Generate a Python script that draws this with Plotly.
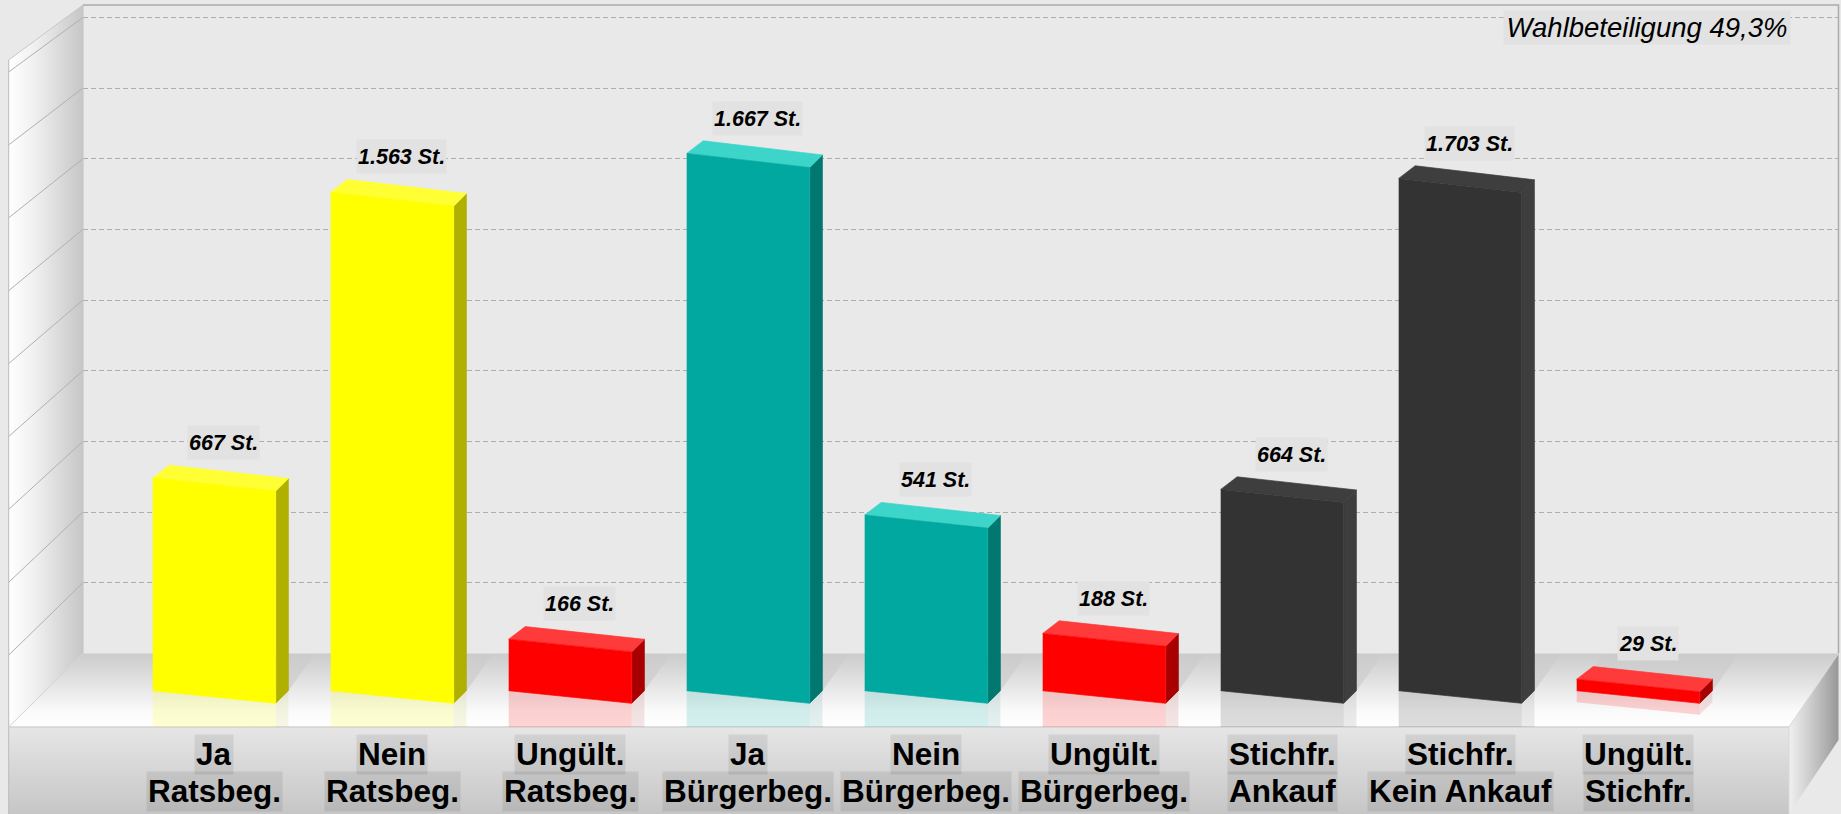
import plotly.graph_objects as go

# ---- data ----
line1 = ["Ja", "Nein", "Ungült.", "Ja", "Nein", "Ungült.", "Stichfr.", "Stichfr.", "Ungült."]
line2 = ["Ratsbeg.", "Ratsbeg.", "Ratsbeg.", "Bürgerbeg.", "Bürgerbeg.", "Bürgerbeg.", "Ankauf", "Kein Ankauf", "Stichfr."]
printed_votes = [667, 1563, 166, 1667, 541, 188, 664, 1703, 29]
# heights of the bars as drawn (they differ from the printed labels, most of all for the dark bars)
drawn_heights = [665, 1558, 161, 1679, 549, 179, 629, 1601, 36]
front_colors = ["#ffff00", "#ffff00", "#ff0000", "#00a8a0", "#00a8a0", "#ff0000", "#333333", "#333333", "#ff0000"]
top_colors = ["#ffff33", "#ffff33", "#ff3a3a", "#3dd4ca", "#3dd4ca", "#ff3a3a", "#3e3e3e", "#3e3e3e", "#ff3a3a"]
side_colors = ["#b0b000", "#b0b000", "#a80000", "#00776f", "#00776f", "#a80000", "#3e3e3e", "#3e3e3e", "#a80000"]
turnout_text = "Wahlbeteiligung 49,3%"

# ---- layout constants ----
W, H = 1841, 814
BG = "#e9e9e9"
PITCH = 178.0
X0 = 214.2
BASE_PY = 690.7
PX_PER_UNIT = 0.32
FLOOR_BACK = 653.4
FLOOR_FRONT = 727.0


def X(px):
    return (px - X0) / PITCH


def Y(py):
    return (BASE_PY - py) / PX_PER_UNIT


def rgba(hex_color, a):
    h = hex_color.lstrip("#")
    return f"rgba({int(h[0:2],16)},{int(h[2:4],16)},{int(h[4:6],16)},{a})"


fig = go.Figure()


def poly(xs, ys, color=None, grad=None, outline=False):
    kw = dict(fillcolor=color) if grad is None else dict(fillgradient=grad)
    ln = dict(width=0.7, color=color) if outline else dict(width=0)
    fig.add_trace(go.Scatter(x=xs, y=ys, mode="lines", fill="toself", line=ln,
                             hoverinfo="skip", showlegend=False, xaxis="x2", yaxis="y2", **kw))


def line(pxs, pys, color, width=1):
    fig.add_trace(go.Scatter(x=[X(p) for p in pxs], y=[Y(p) for p in pys], mode="lines",
                             line=dict(color=color, width=width), hoverinfo="skip",
                             showlegend=False, xaxis="x2", yaxis="y2"))


def ppoly(pxs, pys, color=None, grad=None):
    poly([X(p) for p in pxs], [Y(p) for p in pys], color, grad)


# carrier of the back-wall grid (first subplot, so it lies under everything else)
fig.add_trace(go.Scatter(x=[0], y=[0], mode="markers", marker=dict(opacity=0), hoverinfo="skip",
                         showlegend=False, xaxis="x", yaxis="y"))

# left wall
ppoly([8.7, 83, 83, 8.7], [60, 5, FLOOR_BACK, FLOOR_FRONT],
      grad=dict(type="horizontal", colorscale=[[0, "#ffffff"], [0.35, "#f0f0f0"], [1, "#c6c6c6"]]))
# floor
ppoly([8.7, 83, 1838.5, 1789], [FLOOR_FRONT, FLOOR_BACK, FLOOR_BACK, FLOOR_FRONT],
      grad=dict(type="vertical", colorscale=[[0, "#ffffff"], [0.22, "#fafafa"], [1, "#cbcbcb"]]))
# front panel
ppoly([8.7, 1789, 1789, 8.7], [FLOOR_FRONT, FLOOR_FRONT, H, H],
      grad=dict(type="vertical", colorscale=[[0, "#c6c6c6"], [1, "#e6e6e6"]]))
# right panel
ppoly([1789, 1838.5, 1838.5, 1789], [FLOOR_FRONT, FLOOR_BACK, 740, H],
      grad=dict(type="horizontal", colorscale=[[0, "#f0f0f0"], [0.4, "#cfcfcf"], [1, "#989898"]]))

# wall lines
back_grid = [17.3 + 70.67 * k for k in range(9)]
front_grid = [72.0 + 72.9 * k for k in range(9)]
for yb, yf in zip(back_grid, front_grid):
    line([8.7, 83], [yf, yb], "#b0b0b0")
line([8.7, 83], [FLOOR_FRONT, FLOOR_BACK], "#d4d4d4")
line([8.7, 83], [60, 5], "#c8c8c8")
line([83, 83], [5, FLOOR_BACK], "#c4c4c4")
line([83, 1838.5, 1838.5], [5, 5, FLOOR_BACK], "#ababab", 1.5)
line([8.7, 8.7], [60, H], "#bcbcbc")
line([8.7, 1789], [FLOOR_FRONT, FLOOR_FRONT], "#d2d2d2", 1.5)
line([1789, 1838.5], [FLOOR_FRONT, FLOOR_BACK], "#d8d8d8")
line([1789, 1789], [FLOOR_FRONT, H], "#d8d8d8")

# bars
HALF = 61.5 / PITCH
DX_SIDE = 12.7 / PITCH
DX_BACKL = 16.5 / PITCH
DY_BACK = 12.6 / PX_PER_UNIT
SHEAR_BASE = 12.6 / PX_PER_UNIT
CLIP = Y(FLOOR_FRONT)
SHADOW_DX = 27 / PITCH


def clipped(v):
    return max(v, CLIP)


for i, h in enumerate(drawn_heights):
    L, R, S = i - HALF, i + HALF, i + HALF + DX_SIDE
    top_shear = SHEAR_BASE + 0.0009 * h / PX_PER_UNIT
    # floor shadow
    poly([L, L + SHADOW_DX, S + SHADOW_DX, S], [0, Y(FLOOR_BACK), Y(FLOOR_BACK), 0],
         grad=dict(type="vertical", colorscale=[[0, "rgba(0,0,0,0.09)"], [1, "rgba(0,0,0,0)"]]))
    # reflections
    poly([L, R, R, L], [0, -SHEAR_BASE, clipped(-SHEAR_BASE - h), clipped(-h)], rgba(front_colors[i], 0.17))
    poly([R, S, S, R], [-SHEAR_BASE, 0, clipped(-h), clipped(-SHEAR_BASE - h)], rgba(side_colors[i], 0.1))
    # side, top, front
    poly([R, S, S, R], [-SHEAR_BASE, 0, h - top_shear + DY_BACK, h - top_shear], side_colors[i], outline=True)
    poly([L, L + DX_BACKL, S, R], [h, h + DY_BACK, h - top_shear + DY_BACK, h - top_shear], top_colors[i], outline=True)
    poly([L, R, R, L], [0, -SHEAR_BASE, h - top_shear, h], front_colors[i], outline=True)

annotations = []
LABEL_DX = 9.6 / PITCH
LABEL_DY = 35.2 / PX_PER_UNIT
for i, (v, h) in enumerate(zip(printed_votes, drawn_heights)):
    txt = f"{v:,}".replace(",", ".") + " St."
    annotations.append(dict(x=i + LABEL_DX, y=h + LABEL_DY, xref="x2", yref="y2", text=f"<b><i>{txt}</i></b>",
                            showarrow=False, height=31, borderpad=1, bgcolor="#e2e2e2",
                            font=dict(family="Liberation Sans", size=21.5, color="#000000")))
for i, (a, b) in enumerate(zip(line1, line2)):
    for txt, py in ((a, 754.3), (b, 791.0)):
        annotations.append(dict(x=i, y=Y(py), xref="x2", yref="y2", text=f"<b>{txt}</b>", showarrow=False,
                                height=36.7, borderpad=1, bgcolor="rgba(0,0,0,0.08)",
                                font=dict(family="Liberation Sans", size=31.5, color="#000000")))
annotations.append(dict(x=X(1647), y=Y(27), xref="x2", yref="y2", text=f"<i>{turnout_text}</i>", showarrow=False,
                        height=31, width=284, bgcolor="#e2e2e2",
                        font=dict(family="Liberation Sans", size=27.5, color="#000000")))

hidden = dict(showticklabels=False, ticks="", zeroline=False, showline=False)
fig.update_layout(
    width=W, height=H, margin=dict(l=0, r=0, t=0, b=0), autosize=False,
    paper_bgcolor=BG, plot_bgcolor="rgba(0,0,0,0)", showlegend=False, annotations=annotations,
    xaxis=dict(domain=[83 / W, 1838.5 / W], range=[0, 1], showgrid=False, **hidden),
    yaxis=dict(domain=[(H - FLOOR_BACK) / H, (H - 5) / H], range=[0, 1835], dtick=200, tick0=0, showgrid=True,
               gridcolor="#adadad", gridwidth=1, griddash="5px,3px", **hidden),
    xaxis2=dict(domain=[0, 1], range=[X(0), X(W)], anchor="y2", showgrid=False, **hidden),
    yaxis2=dict(domain=[0, 1], range=[Y(H), Y(0)], anchor="x2", showgrid=False, **hidden),
)

fig.write_html("out.html", config=dict(displayModeBar=False),
               post_script="document.body.style.margin='0';document.body.style.overflow='hidden';")
